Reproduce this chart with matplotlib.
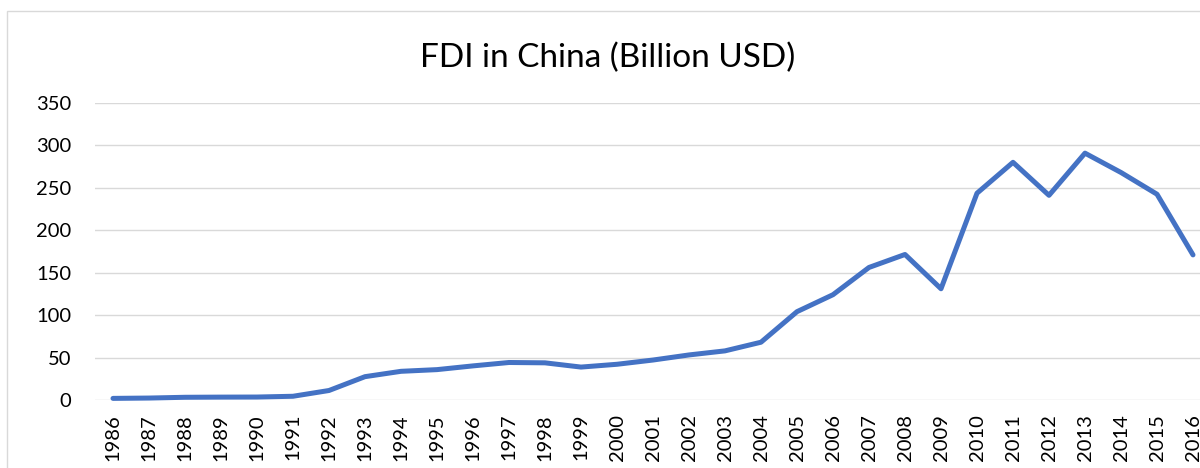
import matplotlib
matplotlib.use("Agg")
import matplotlib.pyplot as plt
from matplotlib.patches import Rectangle

# FDI net inflows into China, billion USD
YEARS = list(range(1986, 2017))
FDI = [1.9, 2.3, 3.2, 3.4, 3.5, 4.4, 11.2, 27.5, 33.8, 35.8, 40.2, 44.2, 43.8,
       38.8, 42.1, 47.1, 53.1, 57.9, 68.1, 104.1, 124.1, 156.2, 171.5, 131.1,
       243.7, 280.1, 241.2, 290.9, 268.1, 242.5, 171.0]
YTICKS = [0, 50, 100, 150, 200, 250, 300, 350]

plt.rcParams["font.family"] = ["Lato", "DejaVu Sans"]

W, H = 1200, 468
fig = plt.figure(figsize=(W / 100, H / 100), dpi=100)
fig.patch.set_facecolor("white")

# chart-area border (cropped on right and bottom)
fig.patches.append(Rectangle((7 / W, -0.2), 1.2, 1.2 - 11 / H,
                             transform=fig.transFigure, fill=False,
                             ec="#D9D9D9", lw=1.0, zorder=0))

# plot area: extends past the right edge like the reference crop
left, right = 95 / W, 1211 / W
bottom, top = (H - 400) / H, (H - 103) / H
ax = fig.add_axes([left, bottom, right - left, top - bottom])
ax.set_facecolor("none")

x = list(range(len(YEARS)))
ax.plot(x, FDI, color="#4472C4", lw=3.6, solid_capstyle="round",
        solid_joinstyle="round", zorder=3, clip_on=False)

ax.set_xlim(-0.5, len(YEARS) - 0.5)
ax.set_ylim(0, 350)
ax.set_yticks(YTICKS)
ax.set_xticks(x)
ax.set_xticklabels([str(y) for y in YEARS], rotation=90, va="top", ha="center")
ax.grid(axis="y", color="#D9D9D9", lw=1.0, zorder=0)
ax.set_axisbelow(True)
ax.tick_params(axis="both", length=0, labelsize=14.5, colors="#000000")
ax.tick_params(axis="y", pad=17)
ax.tick_params(axis="x", pad=10)
for s in ax.spines.values():
    s.set_visible(False)

fig.text(608 / W, 1 - 58 / H, "FDI in China (Billion USD)", ha="center",
         va="center", fontsize=24, color="#000000")

fig.savefig("out.png", dpi=100)
